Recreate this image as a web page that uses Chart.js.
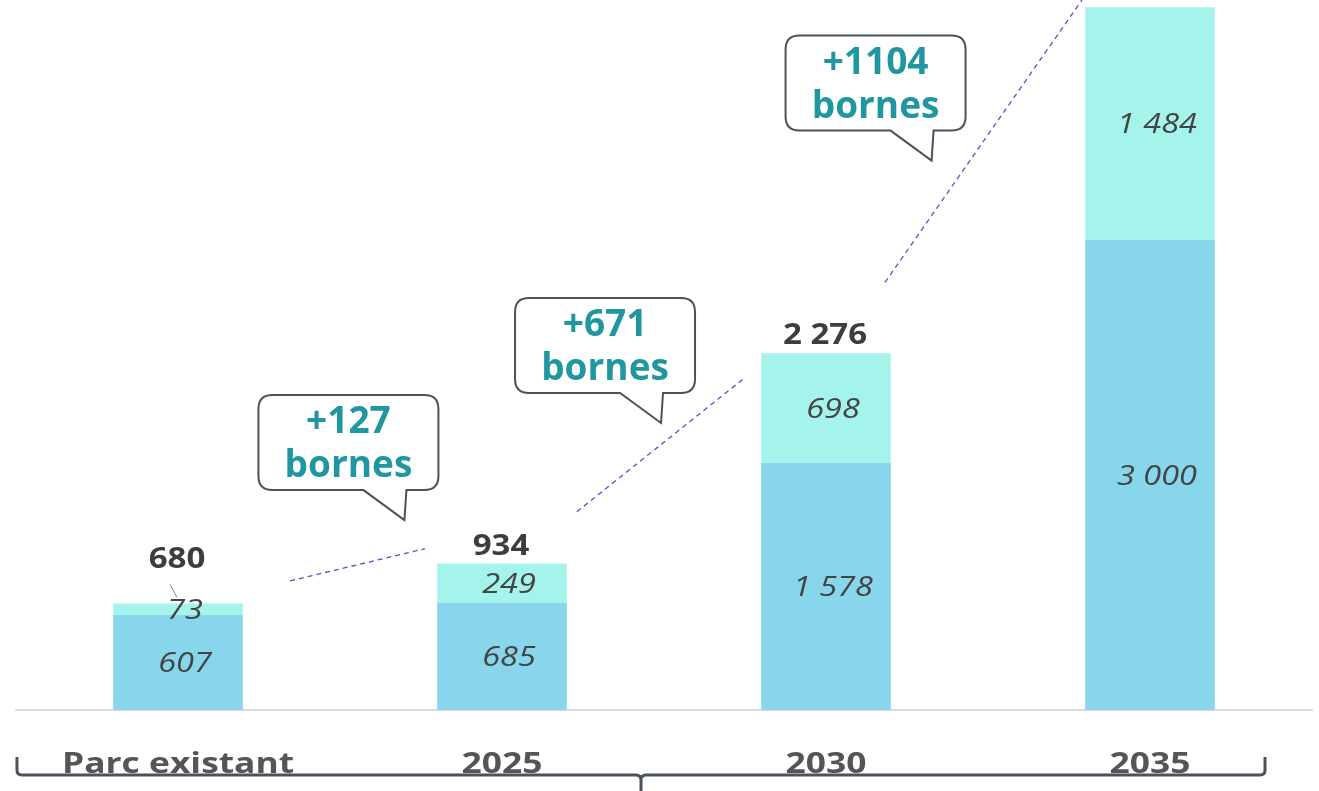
<!DOCTYPE html>
<html>
<head>
<meta charset="utf-8">
<script src="https://cdn.jsdelivr.net/npm/chart.js@4.4.1/dist/chart.umd.min.js"></script>
<style>
  html, body { margin: 0; padding: 0; background: #fff; }
  #wrap { width: 1319px; height: 791px; position: relative; }
</style>
</head>
<body>
<div id="wrap"><canvas id="bornesChart"></canvas></div>
<script>
const categories = ['Parc existant', '2025', '2030', '2035'];
const existingValues = [607, 685, 1578, 3000];
const newValues = [73, 249, 698, 1484];
const growthLabels = ['+127', '+671', '+1104'];

const baseColor = '#87d6ec';
const topColor = '#a5f4ec';
const tealText = '#1f96a0';
const bubbleBorder = '#4a535d';
const dashColor = '#7a3fc6';

// where the callouts and connector lines sit, in scale units (category index, value)
const bubbleSpots = [[0.526, 1706], [1.318, 2326], [2.153, 4000]];
const dashSpots = [
  [[0.346, 824], [0.762, 1029]],
  [[1.231, 1265], [1.750, 2121]],
  [[2.182, 2728], [2.790, 4530]]
];

function fmt(n) {
  return String(n).replace(/\B(?=(\d{3})+(?!\d))/g, ' ');
}

// the source picture has slightly widened text
function wideText(ctx, txt, x, y, sx) {
  ctx.save();
  ctx.translate(x, y);
  ctx.scale(sx, 1);
  ctx.fillText(txt, 0, 0);
  ctx.restore();
}

const overlay = {
  id: 'overlay',
  afterDatasetsDraw(chart) {
    const ctx = chart.ctx;
    const xs = chart.scales.x;
    const ys = chart.scales.y;
    const m0 = chart.getDatasetMeta(0);
    const m1 = chart.getDatasetMeta(1);

    ctx.save();
    ctx.textAlign = 'center';
    ctx.textBaseline = 'middle';

    // values inside the segments
    ctx.fillStyle = '#444';
    ctx.font = 'italic 28px "Open Sans"';
    [m0, m1].forEach((meta, di) => {
      const vals = di === 0 ? existingValues : newValues;
      meta.data.forEach((bar, i) => {
        const y = (bar.y + bar.base) / 2 + 2;
        wideText(ctx, fmt(vals[i]), bar.x + 7, y, 1.16);
      });
    });

    // totals above the bars
    ctx.font = 'bold 28px "Open Sans"';
    ctx.fillStyle = '#3d3d3d';
    m1.data.forEach((bar, i) => {
      const total = existingValues[i] + newValues[i];
      const small = (bar.base - bar.y) < 30;
      const ty = bar.y - (small ? 43 : 17);
      if (ty < 20) return;
      wideText(ctx, fmt(total), bar.x - 1, ty, 1.18);
      if (small) {
        ctx.strokeStyle = '#888';
        ctx.lineWidth = 1;
        ctx.beginPath();
        ctx.moveTo(bar.x - 8, ty + 24);
        ctx.lineTo(bar.x - 1, ty + 37);
        ctx.stroke();
      }
    });

    // dashed connectors
    ctx.strokeStyle = dashColor;
    ctx.lineWidth = 1.3;
    ctx.setLineDash([5, 4]);
    dashSpots.forEach(seg => {
      ctx.beginPath();
      ctx.moveTo(xs.getPixelForValue(seg[0][0]), ys.getPixelForValue(seg[0][1]));
      ctx.lineTo(xs.getPixelForValue(seg[1][0]), ys.getPixelForValue(seg[1][1]));
      ctx.stroke();
    });
    ctx.setLineDash([]);

    // speech bubbles
    const bw = 180, bh = 95, r = 14;
    bubbleSpots.forEach((spot, i) => {
      const cx = xs.getPixelForValue(spot[0]);
      const cy = ys.getPixelForValue(spot[1]);
      const x = cx - bw / 2, y = cy - bh / 2;
      ctx.beginPath();
      ctx.moveTo(x + r, y);
      ctx.lineTo(x + bw - r, y);
      ctx.quadraticCurveTo(x + bw, y, x + bw, y + r);
      ctx.lineTo(x + bw, y + bh - r);
      ctx.quadraticCurveTo(x + bw, y + bh, x + bw - r, y + bh);
      ctx.lineTo(cx + 58, y + bh);
      ctx.lineTo(cx + 56, y + bh + 30);
      ctx.lineTo(cx + 15, y + bh);
      ctx.lineTo(x + r, y + bh);
      ctx.quadraticCurveTo(x, y + bh, x, y + bh - r);
      ctx.lineTo(x, y + r);
      ctx.quadraticCurveTo(x, y, x + r, y);
      ctx.closePath();
      ctx.fillStyle = '#fff';
      ctx.fill();
      ctx.strokeStyle = bubbleBorder;
      ctx.lineWidth = 2;
      ctx.stroke();
      ctx.fillStyle = tealText;
      ctx.font = 'bold 37px "Open Sans"';
      ctx.fillText(growthLabels[i], cx, cy - 20);
      ctx.fillText('bornes', cx, cy + 24);
    });

    // category labels, sitting on the bracket
    ctx.fillStyle = '#555';
    ctx.font = 'bold 29px "Open Sans"';
    ctx.textBaseline = 'alphabetic';
    categories.forEach((c, i) => {
      wideText(ctx, c, xs.getPixelForValue(i), 773, 1.22);
    });

    // bracket under the labels
    const bl = xs.getPixelForValue(-0.497);
    const br = xs.getPixelForValue(3.355);
    const bm = xs.getPixelForValue(1.429);
    const by = 775;
    ctx.strokeStyle = bubbleBorder;
    ctx.lineWidth = 3;
    ctx.beginPath();
    ctx.moveTo(bl, by - 18);
    ctx.lineTo(bl, by - 5);
    ctx.quadraticCurveTo(bl, by, bl + 5, by);
    ctx.lineTo(bm - 5, by);
    ctx.quadraticCurveTo(bm, by, bm, by + 5);
    ctx.lineTo(bm, 795);
    ctx.moveTo(bm, by + 5);
    ctx.quadraticCurveTo(bm, by, bm + 5, by);
    ctx.lineTo(br - 5, by);
    ctx.quadraticCurveTo(br, by, br, by - 5);
    ctx.lineTo(br, by - 18);
    ctx.stroke();

    ctx.restore();
  }
};

new Chart(document.getElementById('bornesChart'), {
  type: 'bar',
  data: {
    labels: categories,
    datasets: [
      { label: 'existant', data: existingValues, backgroundColor: baseColor },
      { label: 'nouvelles', data: newValues, backgroundColor: topColor }
    ]
  },
  options: {
    responsive: true,
    maintainAspectRatio: false,
    animation: false,
    layout: { padding: { left: 16, right: 7, top: 0, bottom: 73 } },
    datasets: { bar: { categoryPercentage: 1, barPercentage: 0.4 } },
    plugins: { legend: { display: false }, tooltip: { enabled: false } },
    scales: {
      x: {
        stacked: true,
        grid: { display: false },
        ticks: { display: false },
        border: { display: true, color: '#dcdcdc', width: 2 }
      },
      y: {
        stacked: true,
        display: false,
        min: 0,
        max: 4530
      }
    }
  },
  plugins: [overlay]
});
</script>
</body>
</html>
